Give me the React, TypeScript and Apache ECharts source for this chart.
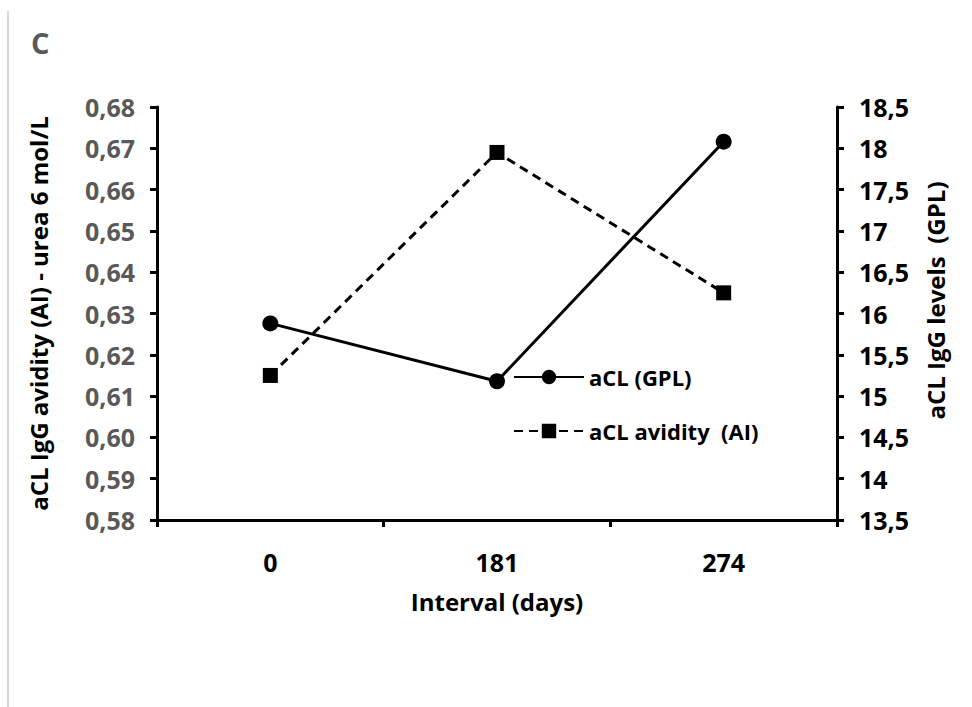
import React, { useEffect, useRef } from "react";
import * as echarts from "echarts";

const categories = ["0", "181", "274"];
const aclGpl = [15.88, 15.18, 18.08];
const aclAvidity = [0.615, 0.669, 0.635];

const FONT = "'Open Sans', 'Noto Sans', sans-serif";

export default function App() {
  const ref = useRef<HTMLDivElement>(null);
  useEffect(() => {
    if (!ref.current) return;
    const chart = echarts.init(ref.current, null, { renderer: "svg" });
    chart.setOption({
      animation: false,
      backgroundColor: "#ffffff",
      textStyle: { fontFamily: FONT },
      graphic: [
        {
          type: "line",
          shape: { x1: 8, y1: 11, x2: 8, y2: 707 },
          style: { stroke: "#d9d9d9", lineWidth: 2 },
        },
        {
          type: "text",
          left: 31,
          top: 28,
          style: { text: "C", fill: "#595959", font: `bold 29px ${FONT}` },
        },
      ],
      legend: {
        orient: "vertical",
        left: 513,
        top: 366,
        padding: 0,
        itemWidth: 70,
        itemHeight: 18,
        itemGap: 32,
        textStyle: { fontFamily: FONT, fontSize: 22, fontWeight: "bold", color: "#000" },
        data: ["aCL (GPL)", "aCL avidity  (AI)"],
      },
      grid: { left: 157, right: 135, top: 107, bottom: 187 },
      xAxis: {
        type: "category",
        data: categories,
        boundaryGap: true,
        name: "Interval (days)",
        nameLocation: "middle",
        nameGap: 69,
        nameTextStyle: { fontFamily: FONT, fontSize: 24, fontWeight: "bold", color: "#000" },
        axisLine: { lineStyle: { color: "#000", width: 3 } },
        axisTick: { show: true, length: 7, lineStyle: { color: "#000", width: 3 } },
        axisLabel: { margin: 29, fontFamily: FONT, fontSize: 25, fontWeight: "bold", color: "#000" },
        splitLine: { show: false },
      },
      yAxis: [
        {
          type: "value",
          position: "left",
          min: 0.58,
          max: 0.68,
          interval: 0.01,
          name: "aCL IgG avidity (AI) - urea 6 mol/L",
          nameLocation: "middle",
          nameGap: 107,
          nameTextStyle: { fontFamily: FONT, fontSize: 24, fontWeight: "bold", color: "#000" },
          axisLine: { show: true, lineStyle: { color: "#000", width: 3 } },
          axisTick: { show: true, length: 7, lineStyle: { color: "#000", width: 3 } },
          axisLabel: {
            margin: 22,
            fontFamily: FONT,
            fontSize: 25,
            fontWeight: "bold",
            color: "#595959",
            formatter: (v: number) => v.toFixed(2).replace(".", ","),
          },
          splitLine: { show: false },
        },
        {
          type: "value",
          position: "right",
          min: 13.5,
          max: 18.5,
          interval: 0.5,
          name: "aCL IgG levels  (GPL)",
          nameLocation: "middle",
          nameGap: 86,
          nameTextStyle: { fontFamily: FONT, fontSize: 24, fontWeight: "bold", color: "#000", padding: [0, 0, 0, 26] },
          axisLine: { show: true, lineStyle: { color: "#000", width: 3 } },
          axisTick: { show: true, length: 7, lineStyle: { color: "#000", width: 3 } },
          axisLabel: {
            margin: 22,
            fontFamily: FONT,
            fontSize: 25,
            fontWeight: "bold",
            color: "#000",
            formatter: (v: number) => String(Math.round(v * 10) / 10).replace(".", ","),
          },
          splitLine: { show: false },
        },
      ],
      series: [
        {
          name: "aCL (GPL)",
          type: "line",
          yAxisIndex: 1,
          data: aclGpl,
          symbol: "circle",
          symbolSize: 16,
          itemStyle: { color: "#000" },
          lineStyle: { color: "#000", width: 3, type: "solid" },
        },
        {
          name: "aCL avidity  (AI)",
          type: "line",
          yAxisIndex: 0,
          data: aclAvidity,
          symbol: "rect",
          symbolSize: 15,
          itemStyle: { color: "#000" },
          lineStyle: { color: "#000", width: 3, type: [9, 6] },
        },
      ],
    });
    return () => chart.dispose();
  }, []);
  return (
    <div
      ref={ref}
      style={{ position: "absolute", left: 0, top: 0, width: 972, height: 707 }}
    />
  );
}
